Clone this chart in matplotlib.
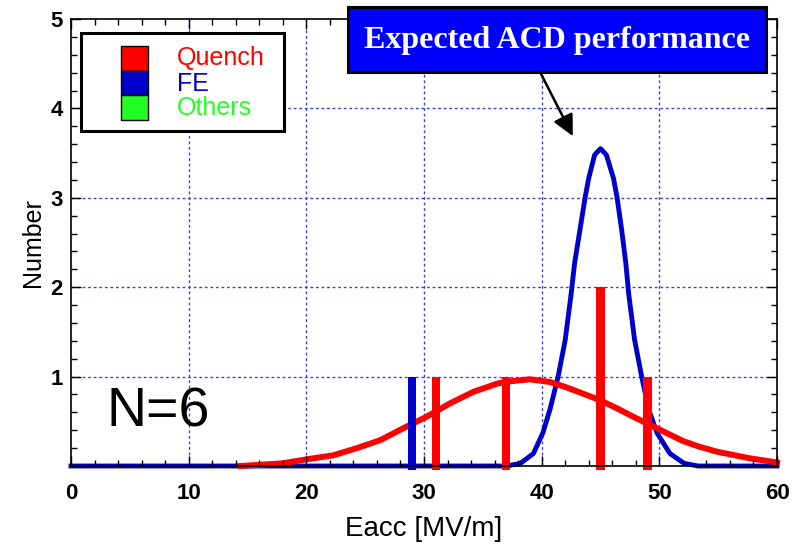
import matplotlib
matplotlib.use('Agg')
import matplotlib.pyplot as plt
from matplotlib.patches import Rectangle
from matplotlib.ticker import MultipleLocator

plt.rcParams['font.family'] = ['Liberation Sans', 'DejaVu Sans']

# ---------------- data ----------------
quench_x = [31, 37, 45, 49]
quench_n = [1, 1, 2, 1]
fe_x = [29]
fe_n = [1]

# expected distribution (red)
red_x = [14.4, 18.0, 20.0, 22.3, 24.3, 26.3, 28.2, 30.2, 32.2, 34.2, 36.3, 37.5,
         39.0, 40.7, 42.1, 43.5, 44.9, 46.4, 47.8, 49.2, 50.6, 52.0, 53.3, 54.9,
         57.7, 60.0]
red_y = [0.0, 0.03, 0.075, 0.12, 0.20, 0.29, 0.42, 0.55, 0.70, 0.83, 0.925, 0.95,
         0.97, 0.94, 0.88, 0.81, 0.74, 0.645, 0.55, 0.46, 0.37, 0.28, 0.22, 0.16,
         0.086, 0.04]

# expected ACD performance (blue)
blue_x = [0.0, 37.0, 38.2, 39.3, 40.1, 40.7, 41.4, 42.0, 42.5, 42.8, 43.25, 43.7,
          44.0, 44.5, 45.0, 45.5, 46.1, 46.4, 46.8, 47.15, 47.4, 47.9, 48.5, 49.1,
          49.8, 50.9, 52.1, 53.3, 60.0]
blue_y = [0.0, 0.0, 0.03, 0.14, 0.37, 0.63, 1.0, 1.41, 1.92, 2.27, 2.64, 3.01,
          3.22, 3.48, 3.55, 3.48, 3.22, 3.01, 2.64, 2.27, 1.92, 1.41, 1.0, 0.63,
          0.37, 0.14, 0.03, 0.0, 0.0]

legend_labels = ['Quench', 'FE', 'Others']
legend_colors = ['#ff0000', '#0000cc', '#22ff22']
x_ticks = [0, 10, 20, 30, 40, 50, 60]
y_ticks = [1, 2, 3, 4, 5]

RED = '#ff0000'
BLUE = '#0000cc'
BAR_BOTTOM = -0.05

# ---------------- figure ----------------
fig = plt.figure(figsize=(7.94, 5.48), dpi=100)
ax = fig.add_axes([0.0894, 0.1496, 0.8892, 0.8157])
ax.set_xlim(0, 60)
ax.set_ylim(0, 5)
ax.set_axisbelow(False)

# grid (dotted blue) at major ticks
ax.vlines(x_ticks[1:-1], 0, 5, colors='#3f3fdd', linestyles=(0, (2, 2)), lw=1.0, zorder=1)
ax.hlines(y_ticks[:-1], 0, 60, colors='#3f3fdd', linestyles=(0, (2, 2)), lw=1.0, zorder=1)

# curves
ax.plot(blue_x, blue_y, color=BLUE, lw=3.5, zorder=2, clip_on=False)
ax.plot(red_x, red_y, color=RED, lw=4.3, zorder=2.1, clip_on=False)

# bars
ax.bar(fe_x, [n - BAR_BOTTOM for n in fe_n], bottom=BAR_BOTTOM, width=0.7,
       color=BLUE, zorder=2.2, clip_on=False)
ax.bar(quench_x, [n - BAR_BOTTOM for n in quench_n], bottom=BAR_BOTTOM, width=0.7,
       color=RED, zorder=2.2, clip_on=False)

# ticks
ax.set_xticks(x_ticks)
ax.set_yticks(y_ticks)
ax.xaxis.set_minor_locator(MultipleLocator(2))
ax.yaxis.set_minor_locator(MultipleLocator(0.2))
ax.tick_params(which='both', direction='in', top=True, right=True, width=1, color='black')
ax.tick_params(which='major', length=7)
ax.tick_params(which='minor', length=4)
ax.tick_params(axis='x', pad=12, labelsize=16)
ax.tick_params(axis='y', pad=6, labelsize=16)
for lab in ax.get_xticklabels() + ax.get_yticklabels():
    lab.set_fontweight('bold')
for sp in ax.spines.values():
    sp.set_linewidth(1.2)

ax.set_xlabel('Eacc [MV/m]', fontsize=20, labelpad=9)
ax.set_ylabel('Number', fontsize=18, labelpad=4)

# legend box
ax.add_patch(Rectangle((0.0142, 0.7494), 0.2875, 0.2193, transform=ax.transAxes,
                       facecolor='white', edgecolor='black', lw=2.2, zorder=5))
bounds = [0.9396, 0.8837, 0.8300, 0.7740]
text_y = [0.9128, 0.8546, 0.8009]
for i, (lab, col) in enumerate(zip(legend_labels, legend_colors)):
    ax.add_patch(Rectangle((0.0708, bounds[i + 1]), 0.0382, bounds[i] - bounds[i + 1],
                           transform=ax.transAxes, facecolor=col, edgecolor='black',
                           lw=1.0, zorder=6))
    ax.text(0.150, text_y[i], lab, transform=ax.transAxes, color=col, fontsize=18,
            va='center', ha='left', zorder=7)

# N=6
ax.text(0.051, 0.12, 'N=6', transform=ax.transAxes, fontsize=40, va='center',
        ha='left', zorder=5)

# title box
ax.add_patch(Rectangle((0.392, 0.881), 0.592, 0.146, transform=ax.transAxes,
                       facecolor='#0000ff', edgecolor='black', lw=2.2, zorder=6,
                       clip_on=False))
ax.text(0.688, 0.951, 'Expected ACD performance', transform=ax.transAxes,
        color='white', fontsize=23, fontweight='bold', family=['Liberation Serif', 'DejaVu Serif'],
        ha='center', va='center', zorder=7, clip_on=False)

# arrow
ax.annotate('', xy=(42.65, 3.69), xytext=(39.85, 4.41),
            arrowprops=dict(arrowstyle='-|>', color='black', lw=1.8, mutation_scale=32,
                            shrinkA=0, shrinkB=0),
            annotation_clip=False, zorder=7)

fig.savefig('out.png', dpi=100)
